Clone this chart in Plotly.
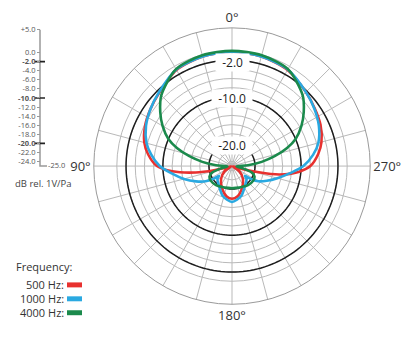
import plotly.graph_objects as go

# ---------------- data ----------------
theta_500 = [0, 15, 30, 45, 55, 65, 75, 82, 90, 95, 100, 103, 107, 112, 125, 140, 155, 170, 180,
             190, 205, 220, 235, 248, 253, 257, 260, 265, 270, 278, 285, 295, 305, 315, 330, 345, 360]
db_500 = [-0.2, -0.4, -0.9, -2.6, -3.4, -4.2, -5.3, -6.6, -8.7, -12.0, -17.0, -21.0, -24.5, -24.8, -23.0, -21.3, -19.8, -18.3, -17.9,
          -18.3, -19.8, -21.3, -23.0, -24.8, -24.0, -19.0, -14.5, -10.5, -8.0, -6.1, -4.9, -3.8, -3.1, -2.3, -0.9, -0.4, -0.2]

theta_1000 = [0, 15, 30, 45, 55, 65, 75, 82, 90, 97, 105, 113, 120, 124, 127, 131, 140, 150, 163, 180,
              197, 210, 220, 229, 233, 236, 240, 247, 255, 263, 270, 278, 285, 295, 305, 315, 330, 345, 360]
db_1000 = [-0.2, -0.4, -0.8, -2.5, -3.4, -4.4, -5.8, -7.3, -9.3, -11.8, -14.2, -16.5, -18.4, -20.0, -21.5, -20.8, -20.3, -19.6, -18.2, -17.2,
           -18.2, -19.6, -20.3, -20.8, -21.5, -20.0, -18.4, -16.8, -14.8, -12.3, -9.5, -7.2, -5.6, -4.2, -3.2, -2.3, -0.8, -0.4, -0.2]

theta_4000 = [0, 15, 30, 45, 53, 60, 67, 72, 77, 82, 87, 93, 102, 108, 115, 125, 140, 155, 170, 180,
              190, 205, 220, 235, 245, 252, 258, 267, 273, 278, 283, 288, 293, 300, 307, 315, 330, 345, 360]
db_4000 = [0.0, -0.1, -0.7, -3.3, -5.5, -7.6, -10.0, -12.5, -15.5, -18.5, -21.5, -24.0, -22.5, -20.5, -19.6, -19.4, -19.6, -20.0, -20.2, -20.2,
           -20.2, -20.0, -19.6, -19.4, -19.6, -20.5, -22.5, -24.0, -21.5, -18.5, -15.5, -12.5, -10.0, -7.6, -5.5, -3.3, -0.7, -0.1, 0.0]

series_names = ["500 Hz", "1000 Hz", "4000 Hz"]
series_colors = ["#e8312f", "#2aa9e1", "#1b8a4c"]

db_min, db_max = -25.0, 5.0
grid_circles = [0, -2, -4, -6, -8, -10, -12, -14, -16, -18, -20, -22, -24]
major_circles = [-2, -10, -20]
major_labels = ["-2.0", "-10.0", "-20.0"]
spoke_angles = list(range(0, 360, 15))
angle_labels = {0: "0°", 90: "90°", 180: "180°", 270: "270°"}

scale_ticks = [5, 0, -2, -4, -6, -8, -10, -12, -14, -16, -18, -20, -22, -24]
scale_labels = ["+5.0", "0.0", "-2.0", "-4.0", "-6.0", "-8.0", "-10.0", "-12.0", "-14.0",
                "-16.0", "-18.0", "-20.0", "-22.0", "-24.0"]
scale_unit = "dB rel. 1V/Pa"
legend_title = "Frequency:"

# ---------------- layout geometry ----------------
W, H = 420, 353
FONT = "Open Sans"
px_left, px_right, px_top, px_bottom = 93, 371, 26, 304
cx_px = (px_left + px_right) / 2
cy_px = (px_top + px_bottom) / 2
R_px = (px_right - px_left) / 2

fig = go.Figure()

circle_theta = list(range(0, 361, 2))
for v in major_circles:
    fig.add_trace(go.Scatterpolar(r=[v] * len(circle_theta), theta=circle_theta, mode="lines",
                                  line=dict(color="#1e1e1e", width=1.5), hoverinfo="skip",
                                  showlegend=False))

for th, db, name, col in zip([theta_500, theta_1000, theta_4000], [db_500, db_1000, db_4000],
                             series_names, series_colors):
    fig.add_trace(go.Scatterpolar(r=db, theta=th, mode="lines", name=name,
                                  line=dict(color=col, width=2.6, shape="spline", smoothing=0.8),
                                  showlegend=False))

fig.update_layout(
    width=W, height=H, margin=dict(l=0, r=0, t=0, b=0),
    paper_bgcolor="white", plot_bgcolor="white",
    font=dict(family=FONT, color="#333"),
    polar=dict(
        domain=dict(x=[px_left / W, px_right / W], y=[1 - px_bottom / H, 1 - px_top / H]),
        bgcolor="white",
        radialaxis=dict(range=[db_min, db_max], tickvals=grid_circles, showticklabels=False,
                        ticks="", showline=False, gridcolor="#b9b9b9", gridwidth=1),
        angularaxis=dict(rotation=90, direction="counterclockwise", tickmode="array",
                         tickvals=spoke_angles,
                         ticktext=[angle_labels.get(a, "") for a in spoke_angles],
                         ticks="", showline=True, linecolor="#9a9a9a", linewidth=1,
                         gridcolor="#b9b9b9", gridwidth=1,
                         tickfont=dict(size=13, color="#333", family=FONT)),
    ),
)

# circle labels with white boxes (boxes kept low so they do not hide the curves)
for v, lab in zip(major_circles, major_labels):
    r_px = (v - db_min) / (db_max - db_min) * R_px
    fig.add_annotation(x=cx_px / W, y=1 - (cy_px - r_px + 2) / H, xref="paper", yref="paper",
                       text="\u00a0\u00a0" + lab + "\u00a0\u00a0", showarrow=False,
                       bgcolor="white", borderpad=0,
                       font=dict(size=12, color="#222", family=FONT),
                       xanchor="center", yanchor="middle")

# ---------------- left dB scale ----------------
scale_top, scale_bot, scale_x = 28, 165, 40
fig.update_layout(
    xaxis=dict(domain=[28 / W, 72 / W], range=[-12, 32], visible=False, fixedrange=True),
    yaxis=dict(domain=[1 - (scale_bot + 3) / H, 1 - (scale_top - 3) / H],
               range=[-25 - 3 * 30 / 137, 5 + 3 * 30 / 137],
               anchor="free", position=scale_x / W,
               tickmode="array", tickvals=scale_ticks,
               ticktext=[("<b>%s</b>" % t) if v in major_circles else t
                         for v, t in zip(scale_ticks, scale_labels)],
               ticks="outside", ticklen=3, tickcolor="#999", tickwidth=1,
               showline=False, showgrid=False, zeroline=False,
               tickfont=dict(size=7.5, color="#555", family=FONT)),
)
# vertical scale line and its foot at -25
fig.add_trace(go.Scatter(x=[0, 0, 7], y=[db_max, db_min, db_min], mode="lines",
                         line=dict(color="#999", width=1.5), hoverinfo="skip", showlegend=False))
# major ticks
mx, my = [], []
for v in major_circles:
    mx += [-5, 5, None]
    my += [v, v, None]
fig.add_trace(go.Scatter(x=mx, y=my, mode="lines", line=dict(color="#222", width=1.6),
                         hoverinfo="skip", showlegend=False))
fig.add_trace(go.Scatter(x=[8], y=[db_min], mode="text", text=["-25.0"],
                         textposition="middle right", cliponaxis=False,
                         textfont=dict(size=7.5, color="#555", family=FONT),
                         hoverinfo="skip", showlegend=False))

fig.add_annotation(x=13 / W, y=1 - 183 / H, xref="paper", yref="paper", text=scale_unit,
                   showarrow=False, xanchor="left", yanchor="middle",
                   font=dict(size=9.5, color="#444", family=FONT))

# ---------------- custom legend ----------------
fig.add_annotation(x=14 / W, y=1 - 266 / H, xref="paper", yref="paper", text=legend_title,
                   showarrow=False, xanchor="left", yanchor="middle",
                   font=dict(size=11, color="#333", family=FONT))
for i, (name, col) in enumerate(zip(series_names, series_colors)):
    yc = 284 + i * 14
    fig.add_annotation(x=66 / W, y=1 - yc / H, xref="paper", yref="paper", text=name + ":",
                       showarrow=False, xanchor="right", yanchor="middle",
                       font=dict(size=11, color="#333", family=FONT))
    fig.add_shape(type="rect", xref="paper", yref="paper",
                  x0=67 / W, x1=82 / W, y0=1 - (yc + 3) / H, y1=1 - (yc - 2) / H,
                  fillcolor=col, line=dict(width=0))

fig.write_html("out.html")
